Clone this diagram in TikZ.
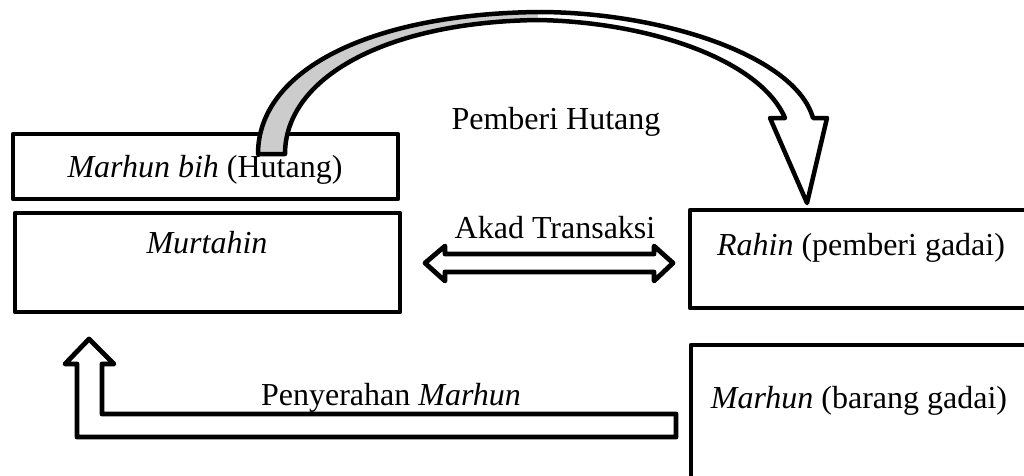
\documentclass[tikz,border=0pt]{standalone}
\usepackage{fontspec}
\setmainfont{Liberation Serif}
\definecolor{bandgray}{RGB}{204,204,204}
\begin{document}
\begin{tikzpicture}[x=1pt,y=-1pt,
  box/.style={draw=black,line width=4.5pt,fill=white,rectangle,inner sep=0pt,line join=round},
  lbl/.style={anchor=base,inner sep=0pt,font=\fontsize{32}{38}\selectfont},
  blockarrow/.style={draw=black,line width=4.8pt,fill=white,line join=round},
  bandstyle/.style={draw=black,line width=4.5pt,line join=round}]
\useasboundingbox (0,0) rectangle (1024,475);
\clip (0,0) rectangle (1024,475);
% boxes
\node[box,minimum width=385pt,minimum height=65pt] (bih) at (205.5,166.5) {};
\node[box,minimum width=385pt,minimum height=99pt] (murtahin) at (207.5,262.5) {};
\node[box,minimum width=350pt,minimum height=98pt] (rahin) at (865,259) {};
\node[box,minimum width=350pt,minimum height=145pt] (marhun) at (866,417.5) {};
% texts
\node[lbl] (tbih) at (205,177) {\textit{Marhun bih} (Hutang)};
\node[lbl] (tmurtahin) at (207,253) {\textit{Murtahin}};
\node[lbl] (trahin) at (861,255) {\textit{Rahin} (pemberi gadai)};
\node[lbl] (tmarhun) at (859,408) {\textit{Marhun} (barang gadai)};
\node[lbl] (tpemberi) at (556,129) {Pemberi Hutang};
\node[lbl] (takad) at (555,238) {Akad Transaksi};
\node[lbl] (tpenyerahan) at (391,405) {Penyerahan \textit{Marhun}};
% curved arrow
\coordinate (c0) at (258,154);
\coordinate (c1) at (285,154);
\coordinate (apexo) at (538,12);
\coordinate (apexi) at (538,20);
\coordinate (tip) at (807,203);
% grey back part (fill only)
\fill[bandgray] (c0) .. controls (258,70) and (370,14) .. (apexo)
  -- (apexi) .. controls (385,22) and (285,78) .. (c1) -- cycle;
% white front part with head (fill only)
\fill[white] (apexo) .. controls (660,12) and (795,55) .. (813,118)
  -- (827,118) -- (tip) -- (770,118) -- (785,118)
  .. controls (760,60) and (650,22) .. (apexi) -- cycle;
% outline of the whole curved arrow
\draw[bandstyle] (c0) .. controls (258,70) and (370,14) .. (apexo)
  .. controls (660,12) and (795,55) .. (813,118)
  -- (827,118) -- (tip) -- (770,118) -- (785,118)
  .. controls (760,60) and (650,22) .. (apexi)
  .. controls (385,22) and (285,78) .. (c1) -- cycle;
% Akad Transaksi double arrow
\path[blockarrow] (425,263) -- (445,246) -- (445,254) -- (654,254) -- (654,246)
  -- (673,263) -- (654,281) -- (654,272) -- (445,272) -- (445,281) -- cycle;
% Penyerahan Marhun L-arrow
\path[blockarrow] (89,339) -- (114,364) -- (102,364) -- (102,414) -- (676,414)
  -- (676,437) -- (77,437) -- (77,364) -- (65,364) -- cycle;
\end{tikzpicture}
\end{document}
